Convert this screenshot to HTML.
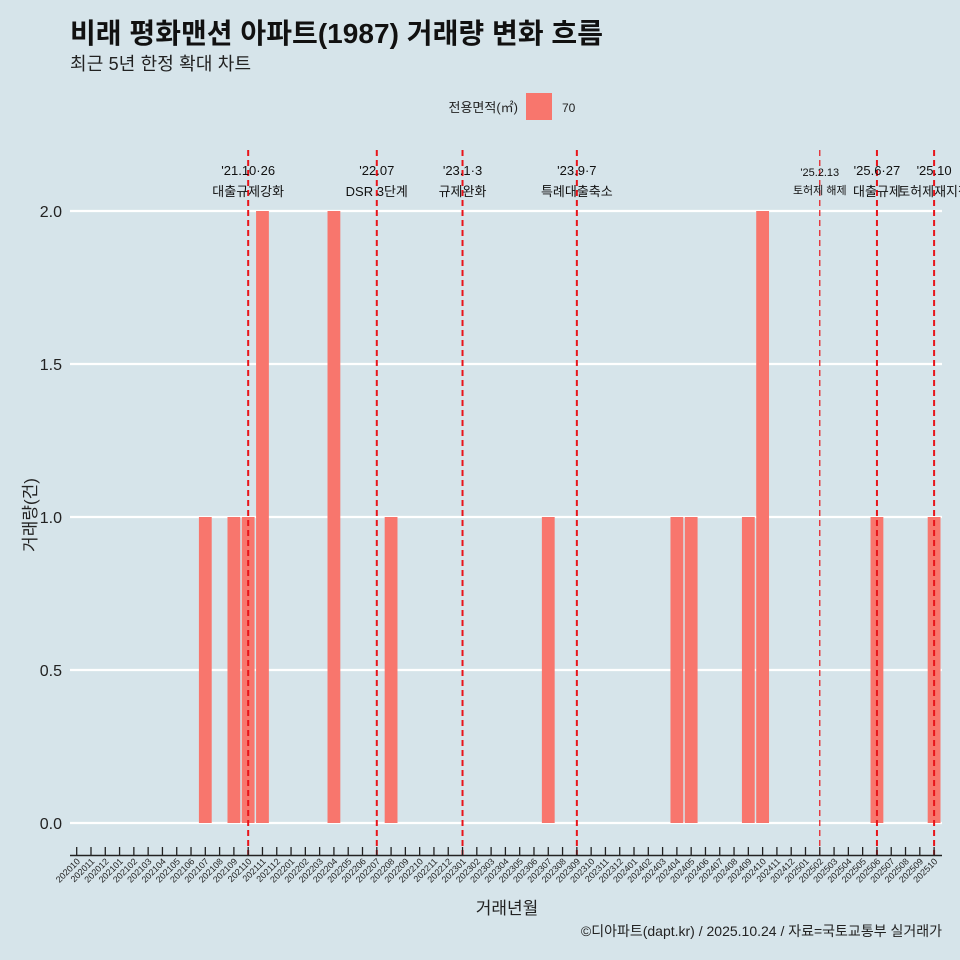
<!DOCTYPE html>
<html><head><meta charset="utf-8"><style>
body{margin:0;background:#d6e4ea;}
svg{display:block;font-family:"Liberation Sans","Noto Sans CJK KR",sans-serif;}
</style></head><body>
<svg id="c" width="960" height="960">
<rect width="960" height="960" fill="#d6e4ea"/>
<text x="70" y="43" font-size="28" font-weight="bold" fill="#111" textLength="533">비래 평화맨션 아파트(1987) 거래량 변화 흐름</text>
<text x="70" y="70" font-size="18" fill="#222" textLength="181">최근 5년 한정 확대 차트</text>
<g>
<text x="518" y="112" font-size="13" text-anchor="end" fill="#222">전용면적(㎡)</text>
<rect x="526" y="93" width="26" height="27" fill="#f8766d"/>
<text x="562" y="112" font-size="12" fill="#222">70</text>
</g>
<g id="grid"></g><g id="bars"></g><g id="vl"></g><g id="xa"></g>
<text transform="translate(36,515) rotate(-90)" font-size="17" text-anchor="middle" fill="#222">거래량(건)</text>
<text x="507" y="914" font-size="17" text-anchor="middle" fill="#222">거래년월</text>
<text x="942" y="936" font-size="14" text-anchor="end" fill="#222">©디아파트(dapt.kr) / 2025.10.24 / 자료=국토교통부 실거래가</text>
</svg>
<script>
const months=[];for(let y=2020;y<=2025;y++)for(let m=1;m<=12;m++){const k=y*100+m;if(k>=202010&&k<=202510)months.push(String(k));}
const barMonths=["202107","202109","202110","202111","202204","202208","202307","202404","202405","202409","202410","202506","202510"];
const barValues=[1,1,1,2,2,1,1,1,1,1,2,1,1];
const yTicks=[0,0.5,1,1.5,2];
const yTickLabels=["0.0","0.5","1.0","1.5","2.0"];
const eventMonths=["202110","202207","202301","202309","202502","202506","202510"];
const eventLine1=["'21.10·26","'22.07","'23.1·3","'23.9·7","'25.2.13","'25.6·27","'25.10"];
const eventLine2=["대출규제강화","DSR 3단계","규제완화","특례대출축소","토허제 해제","대출규제","토허제재지정"];
const NS="http://www.w3.org/2000/svg";
function x(m){return 76.7+months.indexOf(m)*14.29;}
function y(v){return 823-v*306;}
function mk(t,a,p){const e=document.createElementNS(NS,t);for(const k in a)e.setAttribute(k,a[k]);p.appendChild(e);return e;}
const G=document.getElementById('grid'),B=document.getElementById('bars'),V=document.getElementById('vl'),X=document.getElementById('xa');
yTicks.forEach((t,i)=>{
 const l=mk('line',{x1:70,x2:942,y1:y(t),y2:y(t),stroke:'#fff','stroke-width':2.2},G);
 
 
 const tx=mk('text',{x:62,y:y(t)+6,'font-size':16,'text-anchor':'end',fill:'#222'},G);tx.textContent=yTickLabels[i];
 
 
});
barMonths.forEach((m,i)=>{
 const r=mk('rect',{x:x(m)-6.4,y:y(barValues[i]),width:12.8,height:y(0)-y(barValues[i]),fill:'#f8766d'},B);
 
 
});
eventMonths.forEach((m,i)=>{
 const xx=x(m),thin=m==="202502";
 const l=mk('line',{x1:xx,x2:xx,y1:150,y2:856,stroke:'#e8141a','stroke-width':thin?1.2:2,'stroke-dasharray':'6,4'},V);
 
 
 const fs=thin?11:13;
 const a=mk('text',{x:xx,y:thin?176:175,'font-size':fs,'text-anchor':'middle',fill:'#111'},V);a.textContent=eventLine1[i];
 
 
 const b=mk('text',{x:xx,y:thin?194:196,'font-size':fs,'text-anchor':'middle',fill:'#111'},V);b.textContent=eventLine2[i];
 
 
});
const ax=mk('line',{x1:70,x2:942,y1:855.5,y2:855.5,stroke:'#222','stroke-width':1.5},X);


months.forEach(m=>{
 const xx=x(m);
 const t=mk('line',{x1:xx,x2:xx,y1:847,y2:855,stroke:'#222','stroke-width':1.3},X);
 
 
 const tx=mk('text',{'font-size':9,'text-anchor':'end',fill:'#222',transform:`translate(${xx+4},862) rotate(-45)`},X);tx.textContent=m;
 
 
});
</script>
</body></html>
